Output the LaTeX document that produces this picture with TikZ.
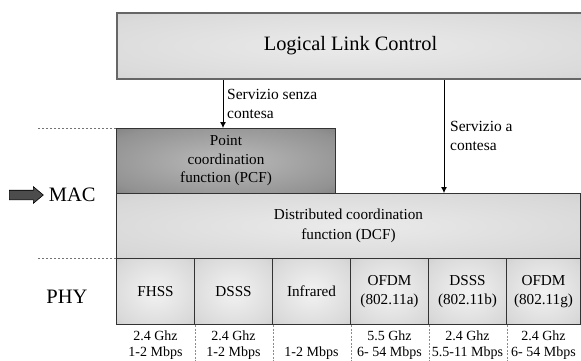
\documentclass[tikz,border=0pt]{standalone}
\usepackage{fontspec}
\setmainfont{Liberation Serif}
\usetikzlibrary{arrows.meta,shapes.arrows,positioning}

% sfumatura dal centro verso i bordi
\makeatletter
\pgfdeclareradialshading[tikz@radial@inner,tikz@radial@outer]{morbido}{\pgfpoint{0bp}{0bp}}{%
  color(0bp)=(tikz@radial@inner);
  color(30bp)=(tikz@radial@inner!55!tikz@radial@outer);
  color(50bp)=(tikz@radial@outer)}
\makeatother

\tikzset{
  blocco/.style 2 args={draw=black!80, line width=1pt, minimum width=#1pt,
    minimum height=#2pt, inner sep=0pt, anchor=north west, align=center,
    font=\fontsize{15.2pt}{19pt}\selectfont},
  llcbox/.style={draw=black!60, line width=2pt, inner color=black!8,
    outer color=black!22, shading=morbido, font=\fontsize{20.4pt}{24pt}\selectfont},
  pcfbox/.style={inner color=black!27, outer color=black!62, shading=morbido,
    font=\fontsize{15.2pt}{18.5pt}\selectfont},
  dcfbox/.style={inner color=black!8, outer color=black!24, shading=morbido,
    font=\fontsize{15.2pt}{20pt}\selectfont},
  phybox/.style={inner color=black!5, outer color=black!27, shading=morbido},
  servizio/.style={line width=0.8pt, -{Latex[length=6pt,width=6pt]}},
  etichetta/.style={align=left, inner sep=0pt, anchor=west,
    font=\fontsize{15.5pt}{19pt}\selectfont},
  dato/.style={align=center, inner sep=0pt, anchor=south,
    font=\fontsize{14pt}{16pt}\selectfont},
  livello/.style={inner sep=0pt, font=\fontsize{20.5pt}{24pt}\selectfont},
  guida/.style={black!55, line width=0.8pt, dash pattern=on 2.5pt off 1.5pt},
  divisore/.style={black!45, line width=0.6pt, dash pattern=on 2pt off 1.5pt},
  frecciona/.style={single arrow, draw=black, line width=0.6pt, fill=black!70,
    inner sep=4.5pt, single arrow head extend=3.5pt, single arrow tip angle=80,
    minimum height=34pt, anchor=west}
}

\begin{document}
\begin{tikzpicture}[x=1pt,y=-1pt]
    \clip (0,0) rectangle (581,360);
    % LLC
    \node[blocco={467}{66}, llcbox] (llc) at (116,12) {Logical Link Control};
    % MAC
    \node[blocco={219}{65}, pcfbox] (pcf) at (116,128) {Point\\coordination\\function (PCF)};
    \node[blocco={464}{65}, dcfbox] (dcf) at (116,193) {Distributed coordination\\function (DCF)};
    % PHY
    \foreach \x/\w/\nome/\testo/\info in {
        116/78/fhss/FHSS/{2.4 Ghz\\1-2 Mbps},
        194/78/dsss/DSSS/{2.4 Ghz\\1-2 Mbps},
        272/78/ir/Infrared/{1-2 Mbps},
        350/78/ofdma/{OFDM\\(802.11a)}/{5.5 Ghz\\6- 54 Mbps},
        428/78/dsssb/{DSSS\\(802.11b)}/{2.4 Ghz\\5.5-11 Mbps},
        506/74/ofdmg/{OFDM\\(802.11g)}/{2.4 Ghz\\6- 54 Mbps}}
    {
        \node[blocco={\w}{66}, phybox] (\nome) at (\x,258) {\testo};
        \path (\nome.south) ++(0,35) node[dato] (\nome-dato) {\info};
    }
    \foreach \n in {fhss,dsss,ir,ofdma,dsssb}
        \draw[divisore] (\n.south east) -- ++(0,37);
    % servizi
    \coordinate (s1) at (223,0);
    \coordinate (s2) at (444,0);
    \draw[servizio] (s1 |- llc.south) -- (s1 |- pcf.north);
    \draw[servizio] (s2 |- llc.south) -- (s2 |- dcf.north);
    \node[etichetta] (lbl1) at (227,104) {Servizio senza\\contesa};
    \node[etichetta] (lbl2) at (450,136) {Servizio a\\contesa};
    % livelli
    \draw[guida] (pcf.north west) -- ++(-78,0);
    \draw[guida] (fhss.north west) -- ++(-78,0);
    \node[frecciona] (freccia) at (9,195) {};
    \node[livello, right=5pt of freccia] (mac) {MAC};
    \node[livello] (phy) at (67,297) {PHY};
\end{tikzpicture}
\end{document}
